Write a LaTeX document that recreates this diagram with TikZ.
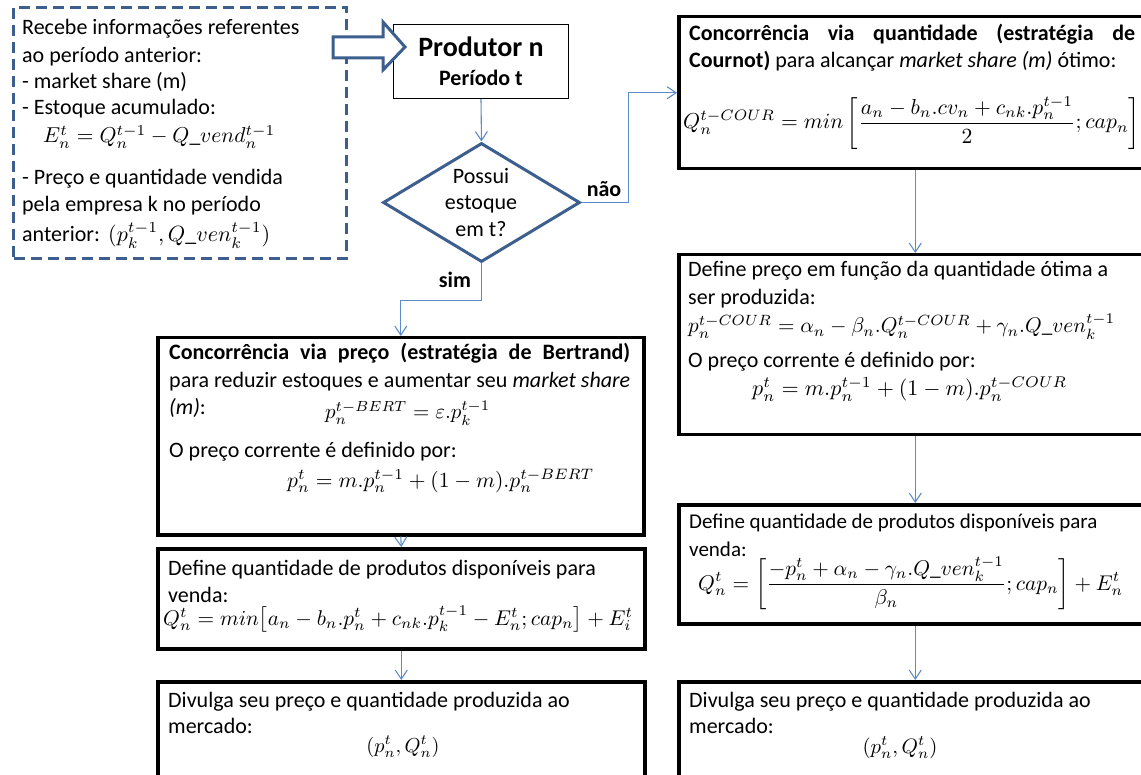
\documentclass[tikz,border=0pt]{standalone}
\usepackage{graphicx}
\usepackage{fontspec}
\setmainfont{Carlito}
\usetikzlibrary{arrows.meta,shapes.geometric}
\definecolor{dblue}{HTML}{3D5F8E}
\definecolor{cblue}{HTML}{5B8BC8}
\newcommand\fw[2]{\resizebox{#1pt}{!}{$\displaystyle #2$}}
\newcommand\fwt[2]{\resizebox{#1pt}{!}{$#2$}}
\begin{document}
\begin{tikzpicture}[x=1pt,y=-1pt,
  box/.style={draw=black,line width=3.5pt,rectangle,inner sep=0pt,anchor=north west},
  txt/.style={anchor=base west,inner sep=0pt,font=\fontsize{22}{26}\selectfont},
  stxt/.style={anchor=base west,inner sep=0pt,font=\fontsize{21}{25}\selectfont},
  ctxt/.style={anchor=base,inner sep=0pt,font=\fontsize{22}{26}\selectfont},
  fml/.style={anchor=base west,inner sep=0pt},
  cfml/.style={anchor=base,inner sep=0pt},
  conn/.style={draw=cblue,line width=1.1pt,-{Straight Barb[length=9pt,width=12pt]}},
  lbl/.style={anchor=base,inner sep=0pt,font=\fontsize{22}{26}\selectfont\bfseries},
  ]
\useasboundingbox (0,0) rectangle (1141,775);
\begin{scope}
\clip (0,0) rectangle (1141,775);
% info box
\node[draw=dblue,line width=3pt,dash pattern=on 11pt off 6pt,rectangle,inner sep=0pt,anchor=north west,
      minimum width=333pt,minimum height=251pt] (info) at (12,6) {};
\node[txt] (i1) at (22,35) {Recebe informações referentes};
\node[txt] (i2) at (22,63) {ao período anterior:};
\node[txt] (i3) at (22,89) {- market share (m)};
\node[txt] (i4) at (22,115) {- Estoque acumulado:};
\node[fml] (i5) at (43,143) {\fwt{232}{E_n^t = Q_n^{t-1} - Q\_vend_n^{t-1}}};
\node[txt] (i6) at (22,185) {- Preço e quantidade vendida};
\node[txt] (i7) at (22,212) {pela empresa k no período};
\node[txt] (i8) at (22,242) {anterior:};
\node[fml] (i9) at (108,242) {\fwt{162}{(p_k^{t-1}, Q\_ven_k^{t-1})}};

% producer
\node[draw=black,line width=1pt,rectangle,inner sep=0pt,anchor=north west,
      minimum width=175pt,minimum height=74pt] (prod) at (393,24) {};
\node[anchor=base,inner sep=0pt,font=\fontsize{28}{32}\selectfont\bfseries] (p1) at (481,57) {Produtor n};
\node[anchor=base,inner sep=0pt,font=\fontsize{22}{26}\selectfont\bfseries] (p2) at (481,86) {Período t};

% block arrow
\draw[draw=dblue,fill=white,line width=3pt,line join=miter]
  (333,37) -- (383,37) -- (383,22) -- (405,47) -- (383,70) -- (383,58) -- (333,58) -- cycle;

% decision
\node[diamond,draw=dblue,line width=3pt,inner sep=0pt,minimum width=197pt,minimum height=119pt] (dia) at (481.5,202.5) {};
\node[ctxt] (d1) at (481,184) {Possui};
\node[ctxt] (d2) at (481,210) {estoque};
\node[ctxt] (d3) at (481,237) {em t?};

% right column
\node[box,minimum width=473pt,minimum height=152pt] (cour) at (677,15) {};
\node[txt] (c1) at (689,41) {\makebox[446pt][s]{\bfseries Concorrência via quantidade (estratégia de}};
\node[txt] (c2) at (689,68) {{\bfseries Cournot)} para alcançar \textit{market share (m)} ótimo:};
\node[fml] (c3) at (683,129) {\fw{457}{Q_n^{t-COUR} = min\left[\frac{a_n - b_n.cv_n + c_{nk}.p_n^{t-1}}{2};cap_n\right]}};

\node[box,minimum width=473pt,minimum height=180pt] (pr) at (677,253) {};
\node[txt] (r1) at (688,277) {Define preço em função da quantidade ótima a};
\node[txt] (r2) at (688,305) {ser produzida:};
\node[fml] (r3) at (688,333) {\fwt{427}{p_n^{t-COUR} = \alpha_n - \beta_n.Q_n^{t-COUR} + \gamma_n.Q\_ven_k^{t-1}}};
\node[txt] (r4) at (688,368) {O preço corrente é definido por:};
\node[fml] (r5) at (752,396) {\fwt{315}{p_n^t = m.p_n^{t-1} + (1-m).p_n^{t-COUR}}};

\node[box,minimum width=473pt,minimum height=119pt] (qr) at (677,503) {};
\node[stxt] (q1) at (689,528) {Define quantidade de produtos disponíveis para};
\node[stxt] (q2) at (689,556) {venda:};
\node[fml] (q3) at (698,590) {\fw{425}{Q_n^t = \left[\frac{-p_n^t + \alpha_n - \gamma_n.Q\_ven_k^{t-1}}{\beta_n};cap_n\right] + E_n^t}};

\node[box,minimum width=473pt,minimum height=120pt] (divr) at (677,680) {};
\node[txt] (v1) at (689,707) {Divulga seu preço e quantidade produzida ao};
\node[txt] (v2) at (689,733) {mercado:};
\node[cfml] (v3) at (900,753) {\fwt{75}{(p_n^t,Q_n^t)}};

% left column
\node[box,minimum width=486pt,minimum height=197pt] (bert) at (156,336) {};
\node[txt] (b1) at (169,360) {\makebox[461pt][s]{\bfseries Concorrência via preço (estratégia de Bertrand)}};
\node[txt] (b2) at (169,388) {\makebox[461pt][s]{para reduzir estoques e aumentar seu \textit{market share}}};
\node[txt] (b3) at (169,415) {\textit{(m)}:};
\node[fml] (b4) at (325,419) {\fwt{165}{p_n^{t-BERT} = \varepsilon.p_k^{t-1}}};
\node[txt] (b5) at (169,457) {O preço corrente é definido por:};
\node[fml] (b6) at (287,487) {\fwt{307}{p_n^t = m.p_n^{t-1} + (1-m).p_n^{t-BERT}}};

\node[box,minimum width=487pt,minimum height=100pt] (defl) at (156,547) {};
\node[txt] (l1) at (168,575) {Define quantidade de produtos disponíveis para};
\node[txt] (l2) at (168,602) {venda:};
\node[fml] (l3) at (163,625) {\fwt{470}{Q_n^t = min\bigl[a_n - b_n.p_n^t + c_{nk}.p_k^{t-1} - E_n^t;cap_n\bigr] + E_i^t}};

\node[box,minimum width=487pt,minimum height=120pt] (divl) at (156,680) {};
\node[txt] (w1) at (168,707) {Divulga seu preço e quantidade produzida ao};
\node[txt] (w2) at (168,733) {mercado:};
\node[cfml] (w3) at (403,752) {\fwt{73}{(p_n^t,Q_n^t)}};

% connectors
\draw[conn] (prod.south) -- (dia.north);
\draw[conn] (dia.east) -- ++(47,0) |- (cour.west);
\draw[conn] (dia.south) -- ++(0,37) -| (bert.north);
\draw[conn] (cour.south) -- (pr.north);
\draw[conn] (pr.south) -- (qr.north);
\draw[conn] (qr.south) -- (divr.north);
\draw[conn] (bert.south) -- (defl.north);
\draw[conn] (defl.south) -- (divl.north);
\node[lbl] (nao) at (604,197) {não};
\node[lbl] (sim) at (455,288) {sim};
\end{scope}
\end{tikzpicture}
\end{document}
